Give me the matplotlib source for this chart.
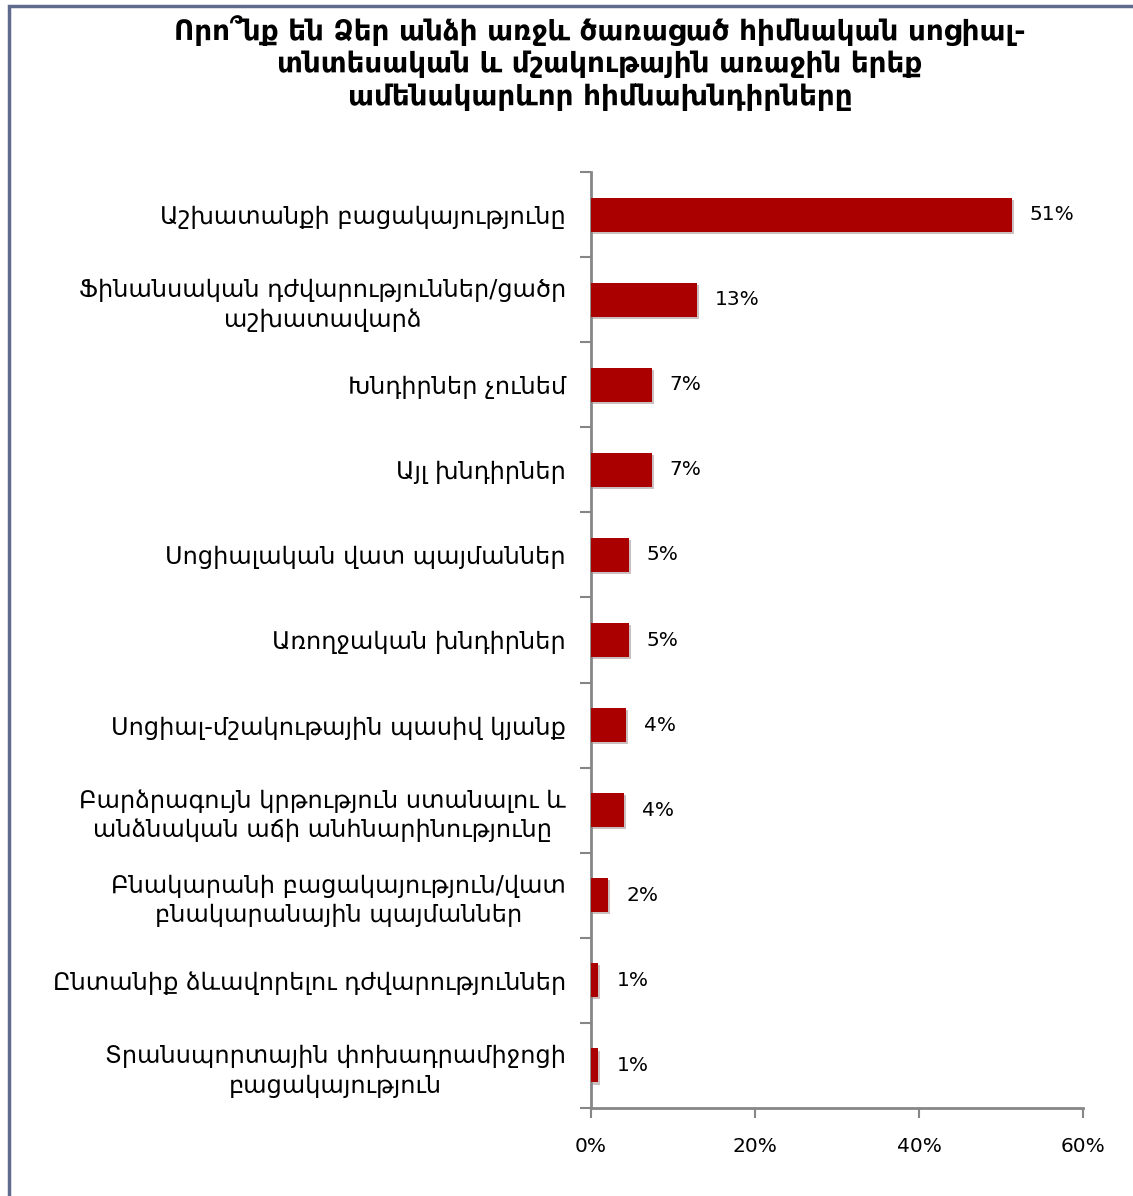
import numpy as np
import matplotlib
matplotlib.use("Agg")
import matplotlib.pyplot as plt
import matplotlib.patheffects as pe
from matplotlib.patches import Rectangle

plt.rcParams['font.family'] = ['DejaVu Sans']

title = ("Որո՞նք են Ձեր անձի առջև ծառացած հիմնական սոցիալ-\n"
         "տնտեսական և մշակութային առաջին երեք\n"
         "ամենակարևոր հիմնախնդիրները")

categories = [
    "Աշխատանքի բացակայությունը",
    "Ֆինանսական դժվարություններ/ցածր\nաշխատավարձ",
    "Խնդիրներ չունեմ",
    "Այլ խնդիրներ",
    "Սոցիալական վատ պայմաններ",
    "Առողջական խնդիրներ",
    "Սոցիալ-մշակութային պասիվ կյանք",
    "Բարձրագույն կրթություն ստանալու և\nանձնական աճի անհնարինությունը",
    "Բնակարանի բացակայություն/վատ\nբնակարանային պայմաններ",
    "Ընտանիք ձևավորելու դժվարություններ",
    "Տրանսպորտային փոխադրամիջոցի\nբացակայություն",
]
values = [51.3, 12.9, 7.4, 7.4, 4.6, 4.6, 4.3, 4.0, 2.1, 0.9, 0.9]
xticks = [0, 20, 40, 60]

W, H = 1133, 1196
fig = plt.figure(figsize=(W / 100, H / 100), dpi=100)
fig.patch.set_facecolor('white')

# frame around the chart (cut at right/bottom edges)
fig.patches.append(Rectangle((9 / W, -0.02), 1.05, 1 - 6 / H + 0.02,
                             transform=fig.transFigure, fill=False,
                             edgecolor='#5F6B8D', linewidth=2.5))

ax = fig.add_axes([591 / W, 1 - 1108 / H, (1083 - 591) / W, (1108 - 172) / H])

pos = np.arange(len(categories))
bars = ax.barh(pos, values, height=0.4, color='#AA0000', zorder=3)
for b in bars:
    b.set_path_effects([pe.SimplePatchShadow(offset=(1.5, -1.5), alpha=0.25),
                        pe.Normal()])

for p, v in zip(pos, values):
    ax.text(v + 2.2, p, f"{v:.0f}%", va='center', ha='left',
            fontsize=14.5, color='black')

ax.set_xlim(0, 60)
ax.set_ylim(len(categories) - 0.5, -0.5)

ax.set_xticks(xticks)
ax.set_xticklabels([f"{t}%" for t in xticks], fontsize=14.5)
ax.tick_params(axis='x', direction='out', length=7, width=1.5,
               color='#868686', pad=14)

ax.set_yticks(np.arange(-0.5, len(categories), 1.0))
ax.set_yticklabels([])
ax.set_yticks(pos, minor=True)
ax.set_yticklabels(categories, minor=True, fontsize=17.3, ha='right',
                   multialignment='center', linespacing=1.3)
ax.tick_params(axis='y', which='major', direction='out', length=8,
               width=1.5, color='#868686')
ax.tick_params(axis='y', which='minor', length=0, pad=18)

for s in ['top', 'right']:
    ax.spines[s].set_visible(False)
for s in ['left', 'bottom']:
    ax.spines[s].set_color('#868686')
    ax.spines[s].set_linewidth(2)

fig.text(600 / W, 1 - 15 / H, title, ha='center', va='top',
         fontsize=20, fontweight='bold', linespacing=1.2)

fig.savefig('out.png', dpi=100)
